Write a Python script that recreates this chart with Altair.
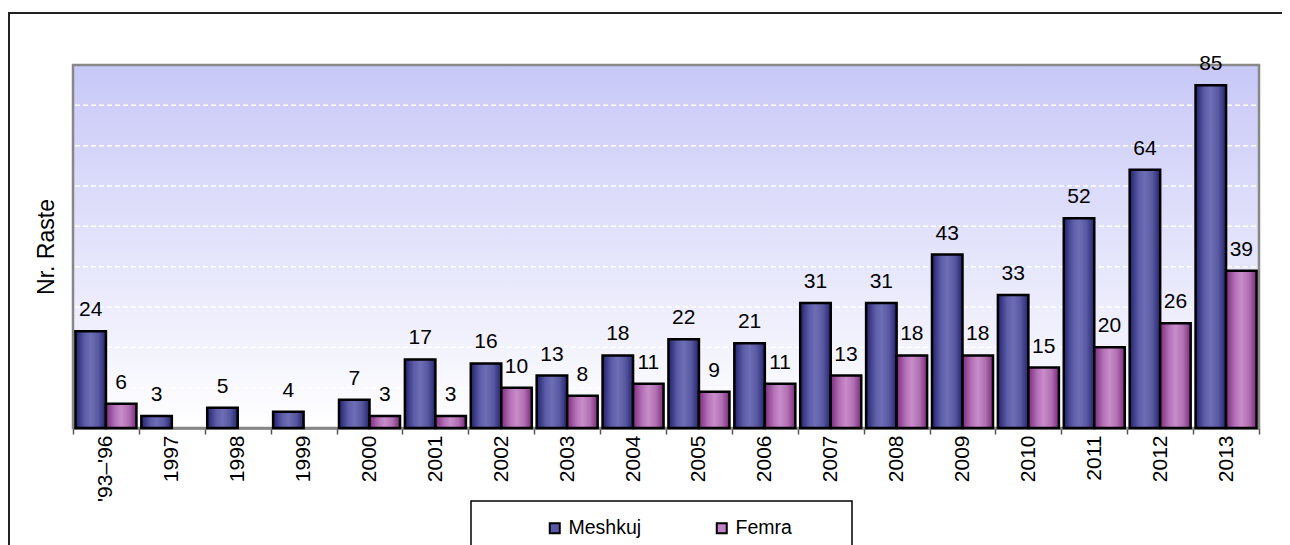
import altair as alt
import pandas as pd

years = ["'93–'96", "1997", "1998", "1999", "2000", "2001", "2002", "2003", "2004",
         "2005", "2006", "2007", "2008", "2009", "2010", "2011", "2012", "2013"]
meshkuj = [24, 3, 5, 4, 7, 17, 16, 13, 18, 22, 21, 31, 31, 43, 33, 52, 64, 85]
femra = [6, 0, 0, 0, 3, 3, 10, 8, 11, 9, 11, 13, 18, 18, 15, 20, 26, 39]
series_names = ["Meshkuj", "Femra"]
grid_values = [10, 20, 30, 40, 50, 60, 70, 80]
y_title = "Nr. Raste"

W, H = 1186, 363
FONT = "Arial, Liberation Sans, sans-serif"

rows = []
for i, yr in enumerate(years):
    rows.append({"year": yr, "series": series_names[0], "value": meshkuj[i]})
    rows.append({"year": yr, "series": series_names[1], "value": femra[i]})
df = pd.DataFrame(rows)

x_scale = alt.Scale(domain=years, paddingInner=0, paddingOuter=0)
xo_scale = alt.Scale(domain=series_names, paddingInner=0, paddingOuter=0.08)
y_scale = alt.Scale(domain=[0, 90], nice=False)

x_axis = alt.Axis(title=None, labelAngle=-90, labelFontSize=21, labelFont=FONT,
                  labelColor="black", tickBand="extent", tickSize=6, tickColor="#555555",
                  tickWidth=1.5, domainColor="#7a7a7a", domainWidth=2.5, labelPadding=1,
                  grid=False)
y_axis = alt.Axis(title=y_title, labels=False, ticks=False, domain=False, grid=False,
                  titleFont=FONT, titleFontSize=23, titleFontWeight="normal",
                  titleColor="black", titlePadding=15)

X = alt.X("year:N", scale=x_scale, axis=x_axis, sort=years)
XO = alt.XOffset("series:N", scale=xo_scale, sort=series_names)


def grad(stops):
    return alt.Gradient(gradient="linear", x1=0, x2=1, y1=0, y2=0,
                        stops=[alt.GradientStop(color=c, offset=o) for o, c in stops])


grad_m = grad([(0, "#22226c"), (0.3, "#5c5ca8"), (0.5, "#6e6eb6"), (0.75, "#5858a2"), (1, "#24246c")])
grad_f = grad([(0, "#7c2c7c"), (0.3, "#b472b8"), (0.5, "#c98cca"), (0.75, "#b070b2"), (1, "#7a2a7a")])

bg = alt.Chart(pd.DataFrame({"k": [0]})).mark_rect(
    fill=alt.Gradient(gradient="linear", x1=0, x2=0, y1=0, y2=1,
                      stops=[alt.GradientStop(color="#c8c8f8", offset=0),
                             alt.GradientStop(color="#ffffff", offset=1)]),
    stroke="#888888", strokeWidth=2.5
).encode(x=alt.value(0), x2=alt.value(W), y=alt.value(0), y2=alt.value(H))

grid = alt.Chart(pd.DataFrame({"g": grid_values})).mark_rule(
    color="white", strokeDash=[5, 3], strokeWidth=1.5
).encode(y=alt.Y("g:Q", scale=y_scale, axis=y_axis), x=alt.value(2), x2=alt.value(W - 2))

bars_m = alt.Chart(df).transform_filter(
    "datum.series == 'Meshkuj' && datum.value > 0"
).mark_bar(fill=grad_m, stroke="black", strokeWidth=2.5).encode(
    x=X, xOffset=XO, y=alt.Y("value:Q", scale=y_scale, axis=y_axis)
)

bars_f = alt.Chart(df).transform_filter(
    "datum.series == 'Femra' && datum.value > 0"
).mark_bar(fill=grad_f, stroke="black", strokeWidth=2.5).encode(
    x=X, xOffset=XO, y=alt.Y("value:Q", scale=y_scale, axis=y_axis)
)

legend_layer = alt.Chart(df).transform_filter("false").mark_bar().encode(
    x=X, xOffset=XO, y=alt.Y("value:Q", scale=y_scale, axis=y_axis),
    color=alt.Color("series:N",
                    scale=alt.Scale(domain=series_names, range=["#5858a8", "#c282c8"]),
                    legend=alt.Legend(title=None, orient="none", legendX=472, legendY=453,
                                      direction="horizontal", symbolType="square",
                                      symbolSize=100, symbolStrokeColor="black",
                                      symbolStrokeWidth=2, labelFont=FONT, labelFontSize=19.5,
                                      labelColor="black", labelOffset=4, columnPadding=70,
                                      padding=0))
)

labels = alt.Chart(df).transform_filter("datum.value > 0").mark_text(
    baseline="alphabetic", dy=-15, fontSize=21, font=FONT, color="black"
).encode(x=X, xOffset=XO, y=alt.Y("value:Q", scale=y_scale, axis=y_axis), text="value:Q")

outer_box = alt.Chart(pd.DataFrame({"k": [0]})).mark_rect(
    filled=False, stroke="#222222", strokeWidth=2
).encode(x=alt.value(-64), x2=alt.value(1300), y=alt.value(-52), y2=alt.value(700))

legend_box = alt.Chart(pd.DataFrame({"k": [0]})).mark_rect(
    filled=False, stroke="black", strokeWidth=1.5
).encode(x=alt.value(398), x2=alt.value(779), y=alt.value(436), y2=alt.value(560))

chart = alt.layer(outer_box, bg, grid, bars_m, bars_f, legend_layer, labels, legend_box).properties(
    width=W, height=H,
    padding={"left": 65, "top": 57, "right": 23, "bottom": 117},
    autosize=alt.AutoSizeParams(type="none"),
    background="white"
).configure_view(stroke="transparent").configure_axisX(
    labelFontSize=21, labelFont=FONT
)

chart.save("out.html", embed_options={"renderer": "svg", "actions": False})
